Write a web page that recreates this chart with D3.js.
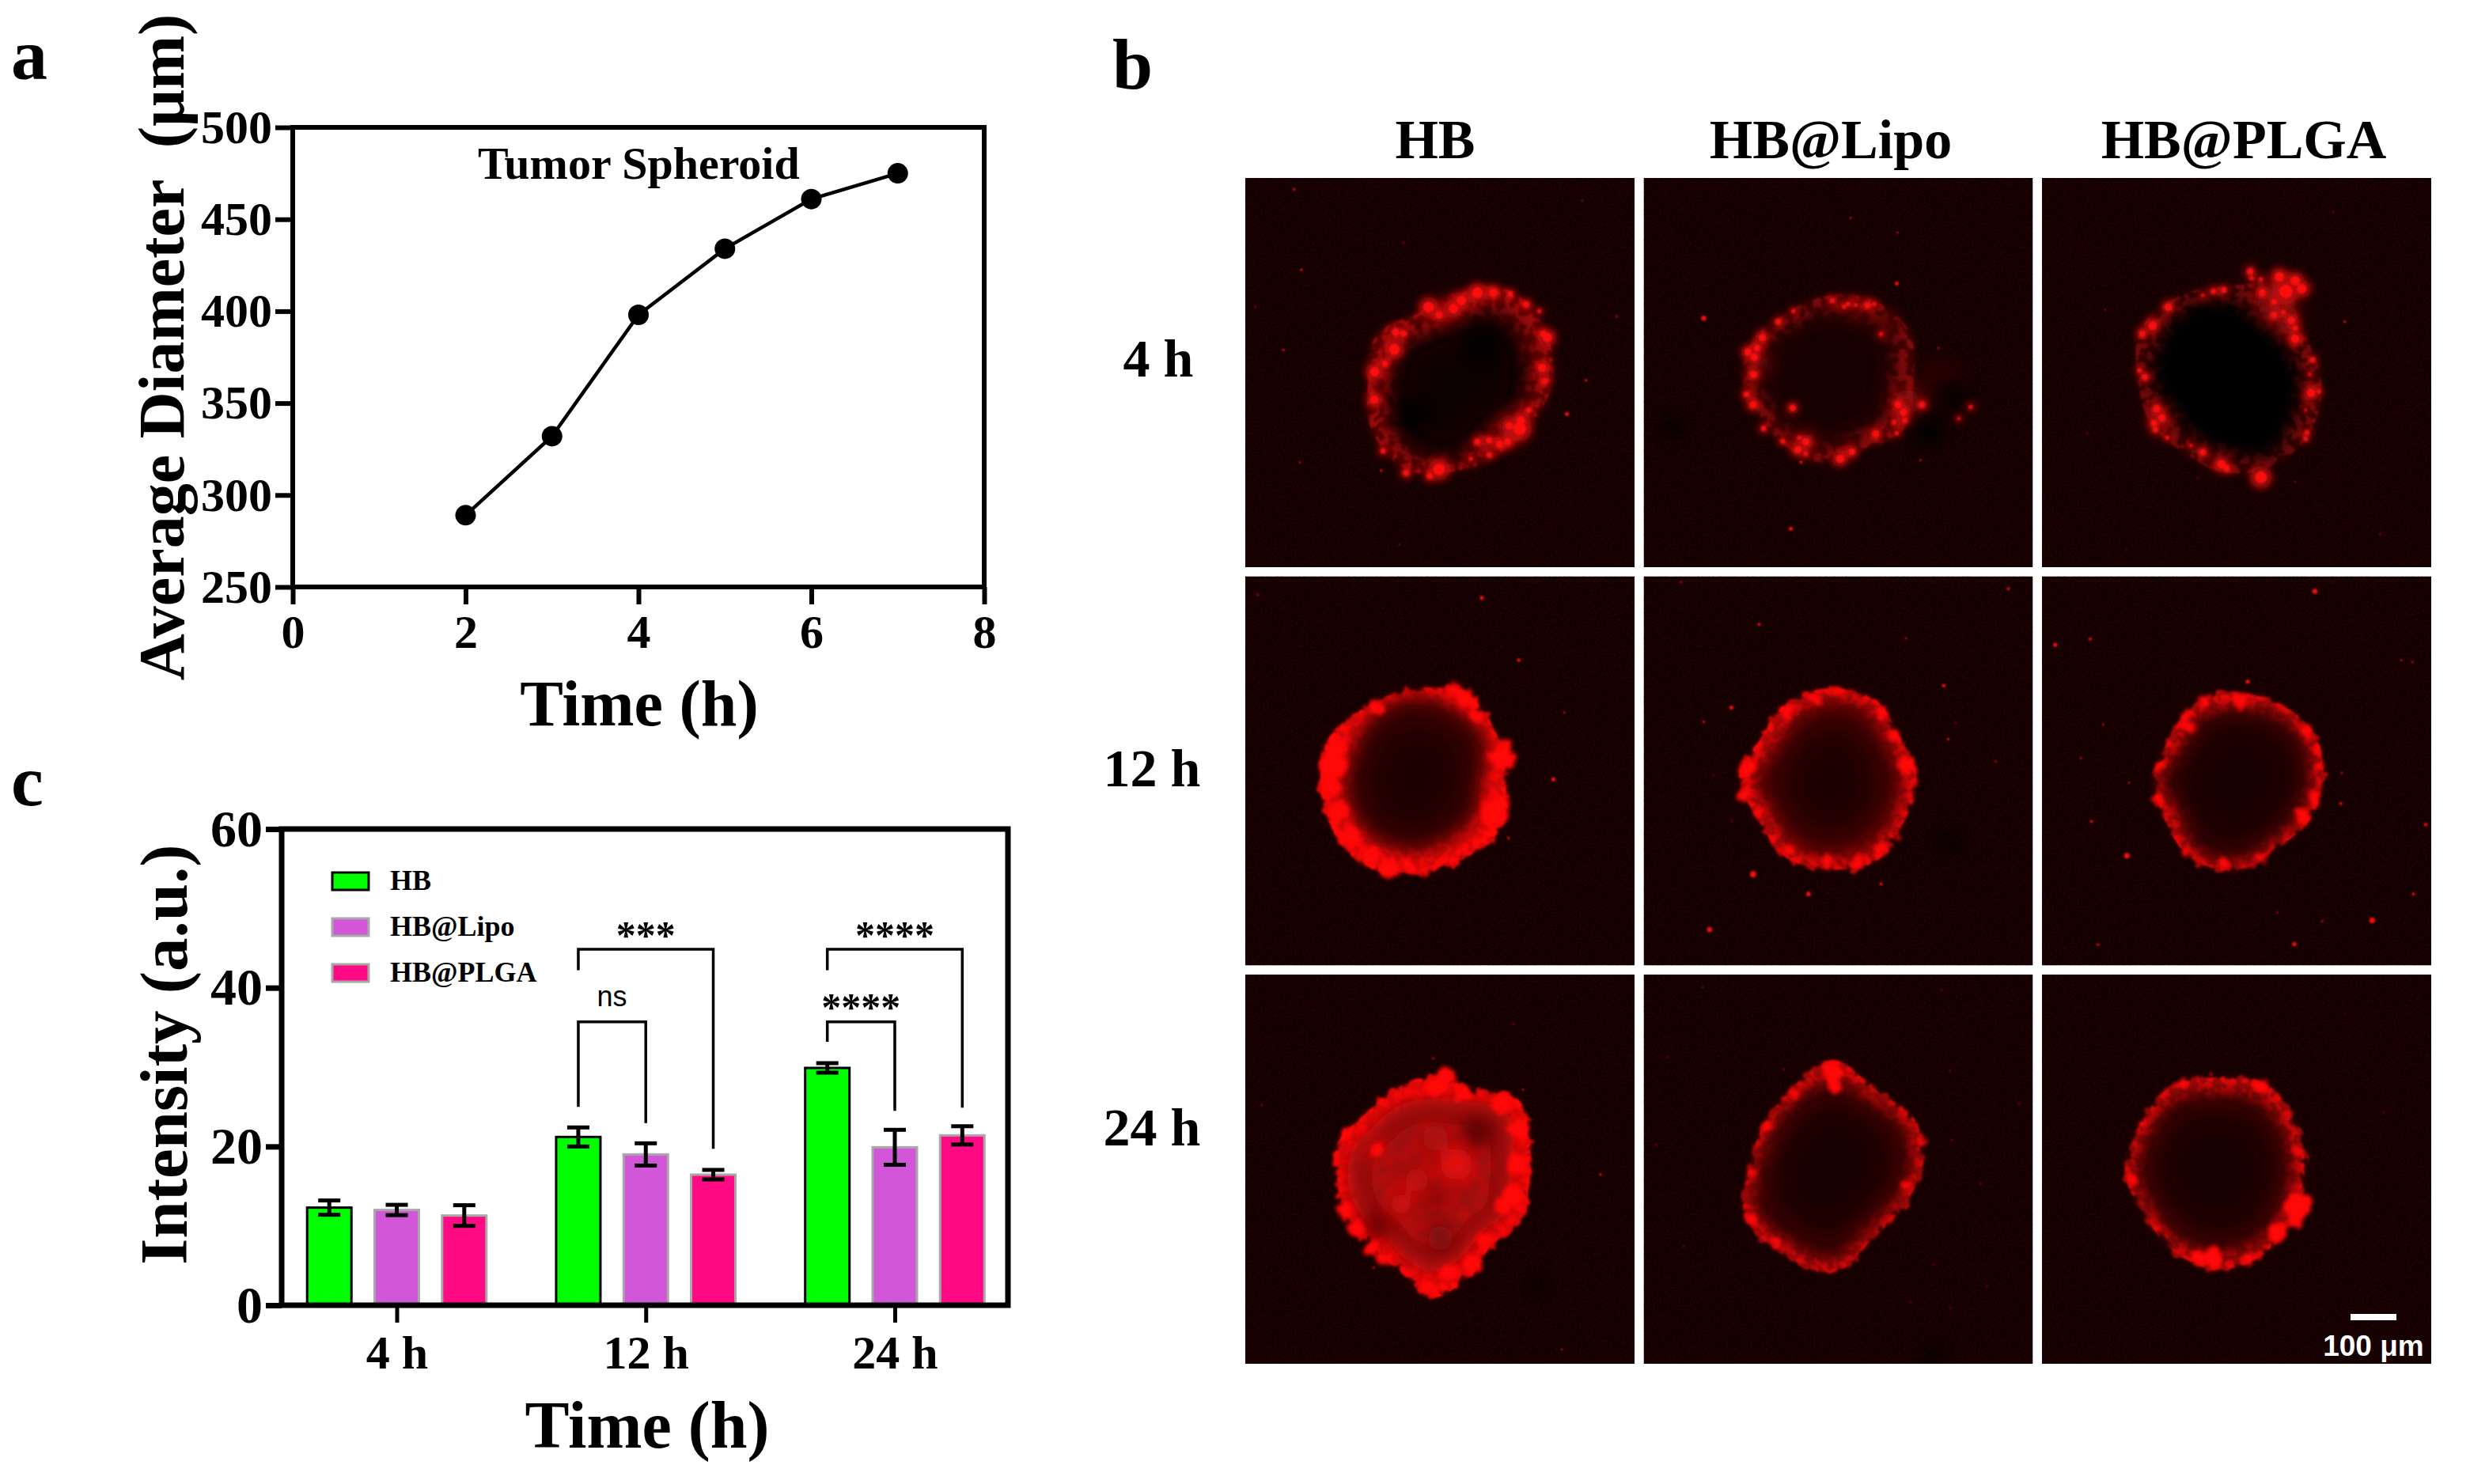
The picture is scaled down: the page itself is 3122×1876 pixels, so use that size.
<!DOCTYPE html>
<html><head><meta charset="utf-8">
<script src="https://cdn.jsdelivr.net/npm/d3@7"></script>
<style>
html,body{margin:0;padding:0;background:#fff}
svg{display:block}
text{font-family:"Liberation Serif",serif;font-weight:bold;fill:#000;white-space:pre}
</style></head><body><svg id="c" width="3122" height="1876"></svg>
<script>
// Panel a
const timeA=[2,3,4,5,6,7];
const diameterA=[289,332,398,434,461,475];
const xTicksA=[0,2,4,6,8];
const yTicksA=[250,300,350,400,450,500];
// Panel c
const groupsC=["4 h","12 h","24 h"];
const seriesC=["HB","HB@Lipo","HB@PLGA"];
const fillsC=["#00ff00","#d257d8","#ff0a84"];
const edgesC=["#000","#a8a8a8","#a8a8a8"];
const hbVals=[12.3,21.2,29.9];
const lipoVals=[12.0,19.0,19.9];
const plgaVals=[11.3,16.45,21.4];
const hbErr=[0.9,1.2,0.6];
const lipoErr=[0.65,1.4,2.2];
const plgaErr=[1.3,0.6,1.15];
const yTicksC=[0,20,40,60];
const brackets=[
 ["12 h","HB","HB@Lipo",35.7,25,22.95,"ns",37.7],
 ["12 h","HB","HB@PLGA",44.85,42.2,19.7,"***",45],
 ["24 h","HB","HB@Lipo",35.7,33.2,24.5,"****",35.9],
 ["24 h","HB","HB@PLGA",44.85,42.2,24.9,"****",45]
];
// Panel b: image units are 0..1476 across a micrograph, read cell by cell.
const rowLabels=["4 h","12 h","24 h"];
const colLabels=["HB","HB@Lipo","HB@PLGA"];
const centres=[[810,770],[680,770],[700,770],[640,780],[700,770],[740,770],[710,790],[717,730],[660,750]];
const outerRadii=[
 [355,322,318,340,389,380,345,358,300,340,394,380],
 [345,358,300,310,286,273,305,309,292,320,360,378],
 [360,372,367,350,316,331,335,381,370,360,410,345],
 [345,372,345,345,370,358,355,362,336,350,390,360],
 [335,327,358,340,336,304,340,300,328,345,350,314],
 [325,314,300,345,347,314,315,300,324,325,328,340],
 [365,368,325,376,435,349,333,345,360,390,364,383,400,381,452,399],
 [340,305,310,400,378,384,315,306,332,405,334,359],
 [335,326,360,370,337,315,344,339,365,360,386,350]
];
const innerRadii=[
 [265,245,215,295,330,305,265,260,215,235,305,290],
 [260,270,235,255,240,220,250,260,240,265,290,305],
 [285,295,330,270,250,235,285,300,320,315,265,265],
 [255,265,255,265,265,265,262,262,300,325,320,315],
 [285,285,300,300,285,250,280,235,265,300,300,265],
 [285,270,270,315,315,260,290,245,280,275,290,295],
 [300,300,265,300,340,300,270,300,320,330,310,320,320,335,390,335],
 [300,270,270,360,335,340,285,270,295,335,295,315],
 [290,290,310,310,295,280,305,300,320,305,325,305]
];
const rimFills=["#5c0606","#480505","#380404","#d80808","#b80808","#b00808","#e00808","#a80808","#a00808"];
const rimSpeckles=["#b81010","#a01010","#901010","#ff0808","#ff0808","#ff0808","#ff0808","#f00808","#f00808"];
const coreEdges=["#160101","#1c0101","#060000","#3e0404","#480404","#2e0303","#960a0a","#380303","#340303"];
const coreDeeps=["#0c0000","#120000","#020000","#1e0101","#1c0101","#120000","#960a0a","#180101","#180101"];
const washes=[
 [[1010,950,55,"#8a0808"],[760,510,50,"#6a0606"],[1080,620,25,"#600606"]],
 [[1130,760,80,"#2c0303"],[1000,850,50,"#8a0808"],[930,560,40,"#3a0404"],[620,1000,40,"#700707"],[450,700,36,"#700707"],[810,500,36,"#600606"]],
 [[890,470,75,"#800808"],[930,560,40,"#800808"],[445,920,36,"#700707"],[650,1070,26,"#500505"]],
 [],[],[],
 [[500,665,35,"#e81010"],[800,720,60,"#f01010"],[590,870,40,"#e81010"],[650,780,45,"#d00c0c"],[880,600,60,"#5a0505"],[500,950,55,"#6a0606"],[720,620,50,"#b00a0a"],[740,1000,50,"#700707"],[715,840,26,"#300303"]],
 [],[]
];
const dimGroup=[1,1,1,0,0,0,0,0,0];
const blobs=[
 [[735,1105,22],[700,1130,12],[610,1118,12],[522,1035,10],[490,840,16],[490,735,18],[530,705,12],[565,650,20],[570,585,14],[600,590,12],[695,490,20],[735,520,14],[790,495,18],[820,465,18],[880,435,20],[940,435,16],[1005,440,10],[1065,480,12],[1115,505,8],[1145,605,18],[1130,590,12],[1125,720,16],[1135,770,12],[1075,880,10],[1040,950,24],[1000,940,14],[965,1010,14],[995,1000,14],[925,995,12],[880,1000,12],[925,1050,10],[855,1065,8],[1045,920,16]],
 [[745,1065,16],[790,1038,13],[880,970,14],[960,968,8],[985,888,14],[950,928,9],[1055,860,12],[965,860,14],[990,920,10],[565,872,12],[455,950,10],[528,998,9],[585,1030,14],[615,1000,14],[615,1045,8],[590,985,8],[415,860,14],[390,820,11],[417,745,14],[420,680,14],[395,660,14],[430,645,12],[450,605,14],[568,505,8],[510,545,10],[715,465,10],[760,488,8],[775,478,8],[805,482,7],[850,482,12],[875,478,8],[900,592,8],[1240,868,8],[1195,912,7]],
 [[900,375,18],[960,390,18],[925,430,25],[985,420,18],[835,435,14],[790,355,12],[795,380,8],[830,385,8],[880,470,10],[915,510,8],[945,540,14],[960,570,10],[880,520,12],[960,610,16],[690,425,10],[650,430,10],[610,445,7],[480,490,14],[420,560,16],[380,590,12],[390,755,12],[370,730,8],[1025,690,10],[1015,745,7],[1020,815,16],[1050,810,8],[1000,880,6],[1005,965,9],[1000,990,8],[830,1135,22],[680,1085,16],[700,1100,12],[610,1040,12],[565,1015,7],[475,985,8],[430,955,10],[455,910,14],[435,875,14],[425,930,12]],
 [[330,720,52],[345,650,40],[320,800,38],[350,890,38],[400,985,38],[480,1060,34],[550,1110,38],[620,1095,24],[685,1120,14],[940,900,54],[970,860,34],[975,690,46],[990,640,24],[840,470,36],[880,530,24],[800,430,28],[500,500,28]],
 [[1000,720,35],[395,730,35],[548,1040,20],[810,1090,24],[740,437,16],[900,520,24],[950,600,22],[430,890,20],[380,830,22],[540,520,25],[650,465,25],[970,990,14],[900,1030,22],[700,1080,26]],
 [[1035,840,28],[990,910,30],[750,470,30],[615,470,25],[545,525,18],[550,570,26],[445,720,18],[440,845,20],[470,880,15],[545,1045,16],[690,1095,22],[825,1070,20],[1005,590,22],[1050,720,15],[1040,660,16]],
 [[760,395,40],[720,430,34],[820,450,30],[970,490,40],[1040,590,38],[1030,720,40],[1020,830,40],[980,880,34],[905,1010,28],[860,1100,34],[770,1130,30],[690,1190,24],[745,1185,14],[520,1075,26],[480,1040,24],[420,960,32],[375,900,28],[385,600,20],[440,578,12],[500,665,24]],
 [[717,370,40],[725,420,30],[995,800,24],[411,750,14],[501,1015,18],[411,930,22],[1060,640,16],[469,575,18],[574,450,18]],
 [[968,880,55],[960,930,30],[890,980,36],[650,1070,40],[593,1075,28],[784,1075,20],[382,570,16],[335,775,20],[536,410,18],[832,425,22],[440,960,14],[968,670,18]]
];
const specks=[
 [[185,43,5],[213,348,5],[145,652,5],[207,1078,4],[515,1110,5],[1292,767,5],[1220,895,8],[1408,525,4],[585,1390,3],[1278,85,3],[38,490,3],[600,245,3]],
 [[960,400,8],[785,152,4],[963,207,4],[558,1330,8],[228,532,10],[1050,1070,4],[1118,645,4],[597,1078,6]],
 [[1105,130,3],[1148,545,5],[960,1152,3],[590,1138,3],[1282,1350,3],[70,1338,2],[240,500,3],[172,970,3],[320,1410,2]],
 [[897,82,8],[1037,318,7],[1210,517,4],[1168,770,8],[998,993,5],[47,70,4]],
 [[333,498,8],[228,552,5],[415,1130,12],[625,1205,9],[250,1340,10],[900,1167,6],[1138,415,7],[995,235,4],[1383,47,6],[142,22,4],[1335,702,4],[438,182,6],[1155,618,5],[1183,556,3],[265,755,3],[335,927,3]],
 [[1035,57,10],[50,260,8],[183,238,6],[780,400,8],[322,1060,11],[1252,1305,11],[1408,1205,6],[188,930,6],[1455,942,7],[957,1395,8],[1133,862,6],[212,1397,5],[147,690,4],[1405,325,4],[1362,318,4],[1137,745,4],[330,783,4],[893,1275,4],[1062,1308,4],[232,562,4]],
 [[713,318,4],[1053,437,4],[1347,758,5],[1200,1422,4],[487,1112,4],[63,495,3],[1018,188,3],[255,135,2]],
 [[1129,58,3],[224,48,3],[90,312,3],[532,360,3],[1161,365,3],[1425,490,3],[1167,628,3],[48,645,3],[1278,793,3],[153,1030,3],[1301,1183,3],[1014,1242,3],[1163,1265,3],[1100,1100,3]],
 [[1297,523,3],[500,1210,2],[300,1090,2],[700,300,2],[1150,150,2]]
];
const darkPatches=[[[640,900,60],[900,640,70]],[[1170,820,50],[1080,960,55],[110,945,40]],[],[],[[1160,1010,40]],[],[[1110,1180,30]],[[1100,1440,35]],[]];
const scaleBarLabel="100 μm";

const svg=d3.select("#c");
const defs=svg.append("defs");
function noiseFilter(id,freq,oct,seed,m,k,blur){
  const f=defs.append("filter").attr("id",id).attr("x","-30%").attr("y","-30%").attr("width","160%").attr("height","160%")
    .attr("color-interpolation-filters","sRGB");
  f.append("feTurbulence").attr("type","fractalNoise").attr("baseFrequency",freq).attr("numOctaves",oct).attr("seed",seed).attr("result","n");
  f.append("feColorMatrix").attr("in","n").attr("type","matrix").attr("values",`0 0 0 0 0 0 0 0 0 0 0 0 0 0 0 ${m} 0 0 0 ${k}`).attr("result","mask");
  f.append("feComposite").attr("in","SourceGraphic").attr("in2","mask").attr("operator","in").attr("result","g");
  f.append("feGaussianBlur").attr("in","g").attr("stdDeviation",blur);
}
function roughFilter(id,freq,scale,blur,seed){
  const f=defs.append("filter").attr("id",id).attr("x","-30%").attr("y","-30%").attr("width","160%").attr("height","160%")
    .attr("color-interpolation-filters","sRGB");
  f.append("feTurbulence").attr("type","fractalNoise").attr("baseFrequency",freq).attr("numOctaves",2).attr("seed",seed).attr("result","n");
  f.append("feDisplacementMap").attr("in","SourceGraphic").attr("in2","n").attr("scale",scale).attr("xChannelSelector","R").attr("yChannelSelector","G").attr("result","d");
  f.append("feGaussianBlur").attr("in","d").attr("stdDeviation",blur);
}
function blurFilter(id,s){
  const f=defs.append("filter").attr("id",id).attr("x","-60%").attr("y","-60%").attr("width","220%").attr("height","220%");
  f.append("feGaussianBlur").attr("stdDeviation",s);
}
noiseFilter("bgGrain",0.4,2,7,5,-2.4,0.5);
d3.range(9).forEach(k=>{
  noiseFilter("speck"+k,0.085,2,k+3,8,-3.6,1.0);
  roughFilter("rough"+k,0.07,24,1.5,k+21);
  roughFilter("lump"+k,0.09,14,2.6,k+41);
});
blurFilter("b24",20);blurFilter("b12",11);blurFilter("b6",5);blurFilter("b4",3.5);blurFilter("b2",1.6);blurFilter("b1",0.8);

/* ---------- panel a ---------- */
const xA=d3.scaleLinear().domain([0,8]).range([370,1244]);
const yA=d3.scaleLinear().domain([250,500]).range([742,161]);
const a=svg.append("g");
const frame=(g,x0,y0,x1,y1,w)=>g.append("rect").attr("x",x0).attr("y",y0).attr("width",x1-x0).attr("height",y1-y0)
  .attr("fill","none").attr("stroke","#000").attr("stroke-width",w);
frame(a,xA(0),yA(500),xA(8),yA(250),6);
const styleAxis=(g,size,w)=>{g.select(".domain").remove();g.selectAll("line").attr("stroke","#000").attr("stroke-width",w);
  g.selectAll("text").attr("font-size",size).style("font-family","Liberation Serif").style("font-weight","bold").attr("fill","#000");};
a.append("g").attr("transform",`translate(${xA(0)},0)`).call(d3.axisLeft(yA).tickValues(yTicksA).tickSize(22).tickPadding(4)).call(styleAxis,60,6);
a.append("g").attr("transform",`translate(0,${yA(250)})`).call(d3.axisBottom(xA).tickValues(xTicksA).tickSize(22).tickPadding(12)).call(styleAxis,60,6);
a.append("path").datum(timeA.map((t,i)=>[t,diameterA[i]])).attr("fill","none").attr("stroke","#000").attr("stroke-width",4.5)
  .attr("d",d3.line().x(d=>xA(d[0])).y(d=>yA(d[1])));
a.selectAll("circle").data(timeA).join("circle").attr("cx",d=>xA(d)).attr("cy",(d,i)=>yA(diameterA[i])).attr("r",13).attr("fill","#000");
a.append("text").attr("x",604).attr("y",226).attr("font-size",58).text("Tumor Spheroid");
a.append("text").attr("transform","translate(232,439) rotate(-90)").attr("text-anchor","middle").attr("font-size",82).text("Average Diameter  (μm)");
a.append("text").attr("x",808).attr("y",917).attr("text-anchor","middle").attr("font-size",82).text("Time (h)");
svg.append("text").attr("x",14).attr("y",100).attr("font-size",92).text("a");
svg.append("text").attr("x",1406).attr("y",112).attr("font-size",92).text("b");
svg.append("text").attr("x",14).attr("y",1018).attr("font-size",92).text("c");

/* ---------- panel c ---------- */
const yC=d3.scaleLinear().domain([0,60]).range([1650,1048]);
const xG=d3.scalePoint().domain(groupsC).range([501.5,1131]);
const xS=d3.scalePoint().domain(seriesC).range([-85.3,85.3]);
const barW=56;
const c=svg.append("g");
const valsBySeries=[hbVals,lipoVals,plgaVals], errBySeries=[hbErr,lipoErr,plgaErr];
seriesC.forEach((s,si)=>{
  groupsC.forEach((g,gi)=>{
    const cx=xG(g)+xS(s), v=valsBySeries[si][gi], e=errBySeries[si][gi];
    c.append("rect").attr("x",cx-barW/2).attr("y",yC(v)).attr("width",barW).attr("height",yC(0)-yC(v))
      .attr("fill",fillsC[si]).attr("stroke",edgesC[si]).attr("stroke-width",3);
    const eg=c.append("g").attr("stroke","#000").attr("stroke-width",5);
    eg.append("line").attr("x1",cx).attr("x2",cx).attr("y1",yC(v-e)).attr("y2",yC(v+e));
    [v-e,v+e].forEach(q=>eg.append("line").attr("x1",cx-14).attr("x2",cx+14).attr("y1",yC(q)).attr("y2",yC(q)));
  });
});
frame(c,356,yC(60),1274,yC(0),7);
c.append("g").attr("transform","translate(356,0)").call(d3.axisLeft(yC).tickValues(yTicksC).tickSize(20).tickPadding(4)).call(styleAxis,66,7);
c.append("g").attr("transform",`translate(0,${yC(0)})`).call(d3.axisBottom(xG).tickSize(22).tickPadding(15)).call(styleAxis,60,5);
brackets.forEach(([g,s1,s2,top,l,r,lab,lv])=>{
  const x1=xG(g)+xS(s1), x2=xG(g)+xS(s2);
  c.append("path").attr("fill","none").attr("stroke","#000").attr("stroke-width",3.5)
    .attr("d",d3.line()([[x1,yC(l)],[x1,yC(top)],[x2,yC(top)],[x2,yC(r)]]));
  const t=c.append("text").attr("x",(x1+x2)/2).attr("y",yC(lv)).attr("text-anchor","middle");
  if(lab==="ns") t.style("font-family","Liberation Sans").style("font-weight","normal").attr("font-size",36).text(lab);
  else t.attr("font-size",50).text(lab);
});
seriesC.forEach((s,i)=>{
  const y=[1114,1172,1230][i];
  c.append("rect").attr("x",420).attr("y",y-11).attr("width",46).attr("height",22).attr("fill",fillsC[i]).attr("stroke",edgesC[i]).attr("stroke-width",3);
  c.append("text").attr("x",493).attr("y",y+11).attr("font-size",36).text(s);
});
c.append("text").attr("transform","translate(236,1333) rotate(-90)").attr("text-anchor","middle").attr("font-size",85).text("Intensity (a.u.)");
c.append("text").attr("x",818).attr("y",1830).attr("text-anchor","middle").attr("font-size",84).text("Time (h)");

/* ---------- panel b ---------- */
const img=d3.scaleLinear().domain([0,1476]).range([0,492]);
const colX=d3.scalePoint().domain(colLabels).range([1574,2581]);
const rowY=d3.scalePoint().domain(rowLabels).range([225,1232]);
const outline=d3.lineRadial().curve(d3.curveCatmullRomClosed)
  .angle((d,i,all)=>i/all.length*2*Math.PI+Math.PI/2).radius(d=>img(d));
const dot=(g,p,fill,filter,grow)=>g.append("circle").attr("cx",img(p[0])).attr("cy",img(p[1])).attr("r",img(p[2])*(grow||1)).attr("fill",fill).attr("filter",filter||null);
const b=svg.append("g");
rowLabels.forEach((rl,ri)=>{
  colLabels.forEach((cl,ci)=>{
    const k=ri*3+ci, g=b.append("g").attr("transform",`translate(${colX(cl)},${rowY(rl)})`);
    const id="clip"+k, S=img(1476);
    defs.append("clipPath").attr("id",id).append("rect").attr("width",S).attr("height",S);
    const cg=g.append("g").attr("clip-path",`url(#${id})`);
    cg.append("rect").attr("width",S).attr("height",S).attr("fill","#130000");
    cg.append("rect").attr("width",S).attr("height",S).attr("fill","#300303").attr("filter","url(#bgGrain)").attr("opacity",.55);
    const s=cg.append("g").attr("transform",`translate(${img(centres[k][0])},${img(centres[k][1])})`);
    const dOut=outline(outerRadii[k]), dIn=outline(innerRadii[k]), dDeep=outline(innerRadii[k].map(v=>v*.72));
    const wg=()=>{const w=cg.append("g").attr("filter","url(#b12)");
      washes[k].forEach(p=>dot(w,p,p[3]));};
    const dg=()=>{const w=cg.append("g").attr("filter","url(#b12)");
      darkPatches[k].forEach(p=>dot(w,p,"#060000"));};
    if(dimGroup[k]){
      s.append("path").attr("d",dOut).attr("fill",rimFills[k]).attr("filter","url(#b6)");
      s.append("path").attr("d",dOut).attr("fill",rimSpeckles[k]).attr("opacity",.7).attr("filter",`url(#speck${k})`);
      s.append("path").attr("d",dIn).attr("fill",coreEdges[k]).attr("filter","url(#b12)");
      s.append("path").attr("d",dDeep).attr("fill",coreDeeps[k]).attr("filter","url(#b12)");
      wg(); dg();
      const glow=cg.append("g").attr("filter","url(#b6)").attr("opacity",.85);
      blobs[k].forEach(p=>dot(glow,p,"#c80808",null,2));
      const hot=cg.append("g").attr("filter","url(#b2)");
      blobs[k].forEach(p=>dot(hot,p,"#ff1010"));
    } else {
      s.append("path").attr("d",dOut).attr("fill","#8c0808").attr("opacity",.35).attr("filter","url(#b6)");
      s.append("path").attr("d",dOut).attr("fill",rimFills[k]).attr("filter",`url(#rough${k})`);
      s.append("path").attr("d",dOut).attr("fill",rimSpeckles[k]).attr("filter",`url(#speck${k})`);
      s.append("path").attr("d",dIn).attr("fill",coreEdges[k]).attr("filter","url(#b12)");
      s.append("path").attr("d",dDeep).attr("fill",coreDeeps[k]).attr("filter","url(#b24)");
      wg(); dg();
      if(k===6) s.append("g").attr("filter","url(#b4)").append("path").attr("d",dDeep).attr("fill","#ff1010").attr("opacity",.35).attr("filter",`url(#speck${k})`);
      const lumps=cg.append("g").attr("filter",`url(#lump${k})`);
      blobs[k].forEach(p=>dot(lumps,p,"#ff0808"));
    }
    specks[k].forEach(p=>dot(cg,p,"#f01010","url(#b1)"));
  });
});
const headX=[1814,2314,2836], rowTX=[1464,1456,1456], rowTY=[476,994,1448];
colLabels.forEach((t,i)=>b.append("text").attr("x",headX[i]).attr("y",200).attr("text-anchor","middle").attr("font-size",70).text(t));
rowLabels.forEach((t,i)=>b.append("text").attr("x",rowTX[i]).attr("y",rowTY[i]).attr("text-anchor","middle").attr("font-size",68).text(t));
b.append("rect").attr("x",2971).attr("y",1661).attr("width",58).attr("height",8).attr("fill","#fff");
b.append("text").attr("x",3000).attr("y",1714).attr("text-anchor","middle").attr("font-size",37)
  .style("font-family","Liberation Sans").style("fill","#fff").text(scaleBarLabel);
</script></body></html>
